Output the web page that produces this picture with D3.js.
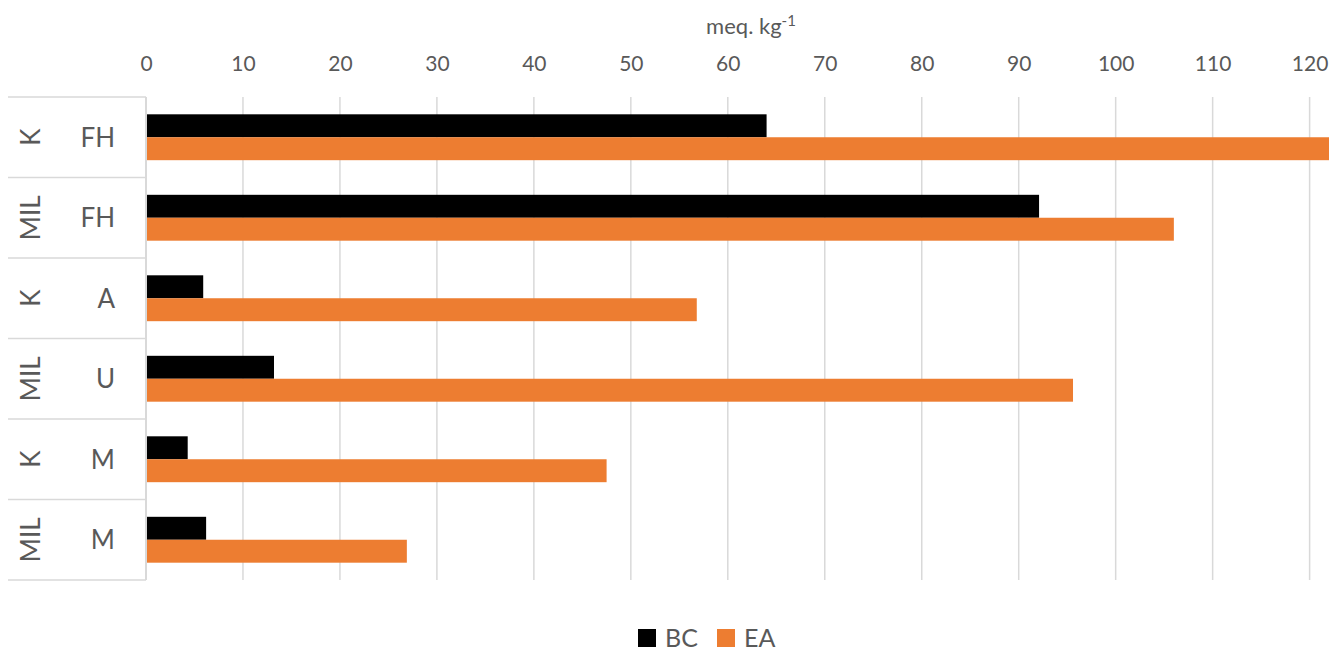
<!DOCTYPE html>
<html><head><meta charset="utf-8">
<script src="https://cdn.jsdelivr.net/npm/d3@7"></script>
<style>body{margin:0;background:#fff}svg{display:block}text{font-family:Lato,"Open Sans",sans-serif;fill:#595959}</style>
</head><body>
<svg id="c" width="1335" height="651"></svg>
<script>
const outerLabels = ["K","MIL","K","MIL","K","MIL"];
const innerLabels = ["FH","FH","A","U","M","M"];
const seriesNames = ["BC","EA"];
const bcValues = [64.0, 92.1, 5.9, 13.2, 4.3, 6.2];
const eaValues = [122.0, 106.0, 56.8, 95.6, 47.5, 26.9];
const tickValues = [0,10,20,30,40,50,60,70,80,90,100,110,120];
const colors = ["#000000","#ED7D31"];

const svg = d3.select("#c");
const L = 146, R = 1329, T = 97, B = 580;
const x = d3.scaleLinear().domain([0,122]).range([L,R]);
const idx = d3.range(outerLabels.length);
const y = d3.scaleBand().domain(idx).range([T,B]).paddingInner(0.43).paddingOuter(0.215);
const ys = d3.scaleBand().domain(seriesNames).range([0,y.bandwidth()]);

// grid
svg.append("g").selectAll("line").data(tickValues.filter(d=>d>0)).join("line")
  .attr("x1",d=>x(d)).attr("x2",d=>x(d)).attr("y1",T).attr("y2",B)
  .attr("stroke","#d9d9d9").attr("stroke-width",1.5);

// top axis
const ax = svg.append("g").attr("transform",`translate(0,${T-26})`)
  .call(d3.axisTop(x).tickValues(tickValues).tickSize(0).tickPadding(0));
ax.select(".domain").remove();
ax.selectAll("text").attr("font-size",21).style("fill","#595959").attr("font-family","Lato,'Open Sans',sans-serif");

// title
const t = svg.append("text").attr("x",751).attr("y",34).attr("text-anchor","middle").attr("font-size",22);
t.append("tspan").text("meq. kg");
t.append("tspan").attr("dy",-8).attr("font-size",15).text("-1");

// bars
const series = [bcValues, eaValues];
series.forEach((vals,si)=>{
  svg.append("g").selectAll("rect").data(idx).join("rect")
    .attr("x",x(0)).attr("y",i=>y(i)+ys(seriesNames[si]))
    .attr("width",i=>x(vals[i])-x(0)).attr("height",ys.bandwidth())
    .attr("fill",colors[si]);
});

// left axis line
svg.append("line").attr("x1",L).attr("x2",L).attr("y1",T).attr("y2",B)
  .attr("stroke","#d9d9d9").attr("stroke-width",2);

// category separators
const step = (B-T)/idx.length;
svg.append("g").selectAll("line").data(d3.range(idx.length+1)).join("line")
  .attr("x1",8).attr("x2",L).attr("y1",i=>T+i*step).attr("y2",i=>T+i*step)
  .attr("stroke","#d9d9d9").attr("stroke-width",1.5);

// inner labels
svg.append("g").selectAll("text").data(idx).join("text")
  .attr("x",115).attr("y",i=>T+(i+0.5)*step).attr("dy","0.36em")
  .attr("text-anchor","end").attr("font-size",26).text(i=>innerLabels[i]);
// outer labels
svg.append("g").selectAll("text").data(idx).join("text")
  .attr("transform",i=>`translate(31,${T+(i+0.5)*step}) rotate(-90)`).attr("dy","0.36em")
  .attr("text-anchor","middle").attr("font-size",26).text(i=>outerLabels[i]);

// legend
const leg = [{n:"BC",x:638},{n:"EA",x:717}];
leg.forEach((d,i)=>{
  svg.append("rect").attr("x",d.x).attr("y",629).attr("width",18).attr("height",18).attr("fill",colors[i]);
  svg.append("text").attr("x",d.x+27).attr("y",647).attr("font-size",25).text(d.n);
});
</script>
</body></html>
